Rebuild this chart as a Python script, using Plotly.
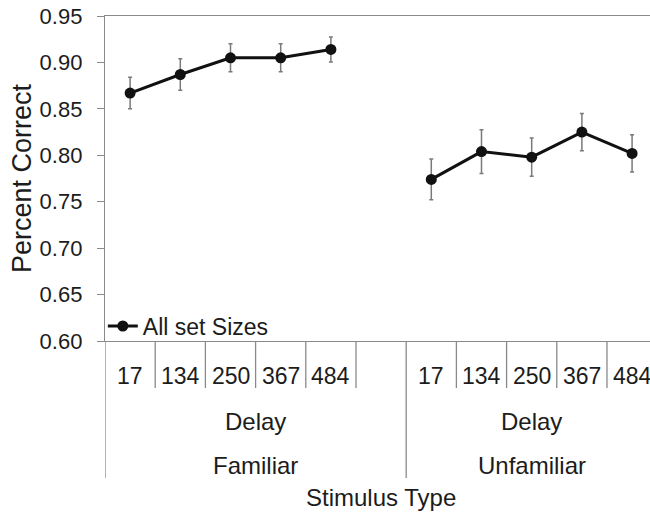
import plotly.graph_objects as go

# Delay values (ms) shown under each group
delays = ["17", "134", "250", "367", "484"]
groups = ["Familiar", "Unfamiliar"]

# Mean percent correct and error (±) per delay
familiar_mean = [0.867, 0.887, 0.905, 0.905, 0.914]
familiar_err = [0.017, 0.017, 0.015, 0.015, 0.0135]
unfamiliar_mean = [0.774, 0.804, 0.798, 0.825, 0.802]
unfamiliar_err = [0.022, 0.0235, 0.0205, 0.020, 0.020]

W, H = 650, 513
ML, MT, MB = 105, 16, 172
plot_h = H - MT - MB

TEXT = "#1c1c1c"
AXIS = "#8a8a8a"
FONT = "Liberation Sans, Arial, sans-serif"


def below(px):
    """Paper y coordinate for a point px pixels below the x axis."""
    return -px / plot_h


# Category slots: 5 familiar, 1 empty spacer, 5 unfamiliar
fam_x = list(range(len(delays)))
unf_x = [len(delays) + 1 + i for i in range(len(delays))]
n_slots = len(delays) * 2 + 1

line_style = dict(color="#111111", width=3)
marker_style = dict(color="#111111", size=11)
err_style = dict(color="#7a7a7a", thickness=1.5, width=2)

fig = go.Figure()
fig.add_trace(go.Scatter(
    x=fam_x, y=familiar_mean, mode="lines+markers", name="All set Sizes",
    line=line_style, marker=marker_style, legendgroup="all",
    error_y=dict(type="data", array=familiar_err, **err_style),
))
fig.add_trace(go.Scatter(
    x=unf_x, y=unfamiliar_mean, mode="lines+markers", name="All set Sizes",
    line=line_style, marker=marker_style, legendgroup="all", showlegend=False,
    error_y=dict(type="data", array=unfamiliar_err, **err_style),
))

# The last slot runs slightly past the right edge of the canvas
x_max = n_slots - 0.5 - 0.143

shapes = []
# Category dividers below the axis
for i in range(n_slots + 1):
    xb = i - 0.5
    long_div = (i == 0) or (i == len(delays) + 1)
    y_end = below(137) if long_div else below(47)
    shapes.append(dict(type="line", xref="x", yref="paper", x0=xb, x1=xb,
                       y0=0, y1=y_end, line=dict(color=AXIS, width=1.3)))

annotations = []
for xs in (fam_x, unf_x):
    for xv, lab in zip(xs, delays):
        annotations.append(dict(x=xv, y=below(35), xref="x", yref="paper",
                                text=lab, showarrow=False, yanchor="middle",
                                font=dict(size=23, color=TEXT, family=FONT)))

group_centers = [(fam_x[0] - 0.5 + unf_x[0] - 0.5) / 2,
                 (unf_x[0] - 0.5 + n_slots - 0.5) / 2]
for gc, gname in zip(group_centers, groups):
    annotations.append(dict(x=gc, y=below(80), xref="x", yref="paper",
                            text="Delay", showarrow=False, yanchor="middle",
                            font=dict(size=24, color=TEXT, family=FONT)))
    annotations.append(dict(x=gc, y=below(124), xref="x", yref="paper",
                            text=gname, showarrow=False, yanchor="middle",
                            font=dict(size=24, color=TEXT, family=FONT)))
annotations.append(dict(x=(n_slots - 1) / 2, y=below(157), xref="x", yref="paper",
                        text="Stimulus Type", showarrow=False, yanchor="middle",
                        font=dict(size=24, color=TEXT, family=FONT)))

fig.update_layout(
    width=W, height=H,
    margin=dict(l=ML, r=0, t=MT, b=MB, pad=0),
    paper_bgcolor="white", plot_bgcolor="white",
    font=dict(family=FONT, color=TEXT),
    showlegend=True,
    legend=dict(x=-0.004, y=0.046, xanchor="left", yanchor="middle",
                bgcolor="rgba(0,0,0,0)", font=dict(size=23, color=TEXT),
                itemwidth=30, borderwidth=0),
    xaxis=dict(range=[-0.5, x_max], showgrid=False, zeroline=False,
               showticklabels=False, ticks="", showline=True, linecolor=AXIS,
               linewidth=1.3, mirror=True, fixedrange=True),
    yaxis=dict(range=[0.60, 0.95], dtick=0.05, tickformat=".2f",
               showgrid=False, zeroline=False, showline=True, linecolor=AXIS,
               linewidth=1.3, ticks="outside", ticklen=7, tickcolor=AXIS,
               tickwidth=1.3, ticklabelstandoff=10,
               tickfont=dict(size=22, color=TEXT),
               title=dict(text="Percent Correct", font=dict(size=27, color=TEXT),
                          standoff=0)),
    shapes=shapes,
    annotations=annotations,
)

fig.write_html("out.html")
